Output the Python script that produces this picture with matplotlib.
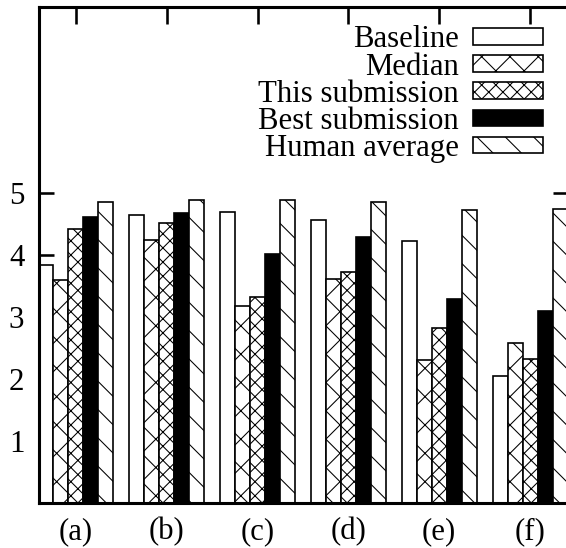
import numpy as np
import matplotlib
matplotlib.use('Agg')
import matplotlib.pyplot as plt

# scores
categories = ['(a)', '(b)', '(c)', '(d)', '(e)', '(f)']
baseline = [3.84, 4.65, 4.70, 4.56, 4.23, 2.05]
median = [3.59, 4.25, 3.17, 3.61, 2.30, 2.58]
this_submission = [4.42, 4.51, 3.33, 3.73, 2.83, 2.32]
best_submission = [4.62, 4.67, 4.01, 4.29, 3.29, 3.09]
human_average = [4.85, 4.89, 4.89, 4.86, 4.73, 4.75]
series_names = ['Baseline', 'Median', 'This submission', 'Best submission', 'Human average']
y_ticks = [1, 2, 3, 4, 5]

DPI = 170  # large hatch cell -> sparse gnuplot-like patterns
plt.rcParams['font.family'] = ['Liberation Serif', 'DejaVu Serif']
plt.rcParams['hatch.linewidth'] = 0.45

fig = plt.figure(figsize=(566 / DPI, 548 / DPI), dpi=DPI)
ax = fig.add_axes([38.5 / 566, 45 / 548, 529 / 566, 496 / 548])

series = [baseline, median, this_submission, best_submission, human_average]
faces = ['white', 'white', 'white', 'black', 'white']
hatches = ['', 'xx', 'xxxx', '', '\\\\']
width = 0.165
x = np.arange(len(categories))

for i, vals in enumerate(series):
    ax.bar(x + (i - 2) * width, vals, width, color=faces[i], edgecolor='black',
           hatch=hatches[i], linewidth=0.7, label=series_names[i], zorder=2)

ax.set_xlim(-2.5 * width, len(categories) - 1 + 2.5 * width)
ax.set_ylim(0, 8)
ax.set_xticks(x)
ax.set_xticklabels(categories)
ax.set_yticks(y_ticks)
ax.set_axisbelow(True)

fs = 13
ax.tick_params(axis='both', direction='in', labelsize=fs, width=1.1, length=6.5,
               top=True, right=True, pad=6)
ax.tick_params(axis='x', length=7)
for s in ax.spines.values():
    s.set_linewidth(1.3)
    s.set_zorder(3)

leg = ax.legend(loc='upper right', bbox_to_anchor=(0.954, 0.963), frameon=False,
                markerfirst=False, fontsize=fs, handlelength=2.3, handleheight=0.45,
                handletextpad=0.45, labelspacing=-0.06, borderpad=0, borderaxespad=0)
for t in leg.get_texts():
    t.set_ha('right')

fig.savefig('out.png', dpi=DPI)
